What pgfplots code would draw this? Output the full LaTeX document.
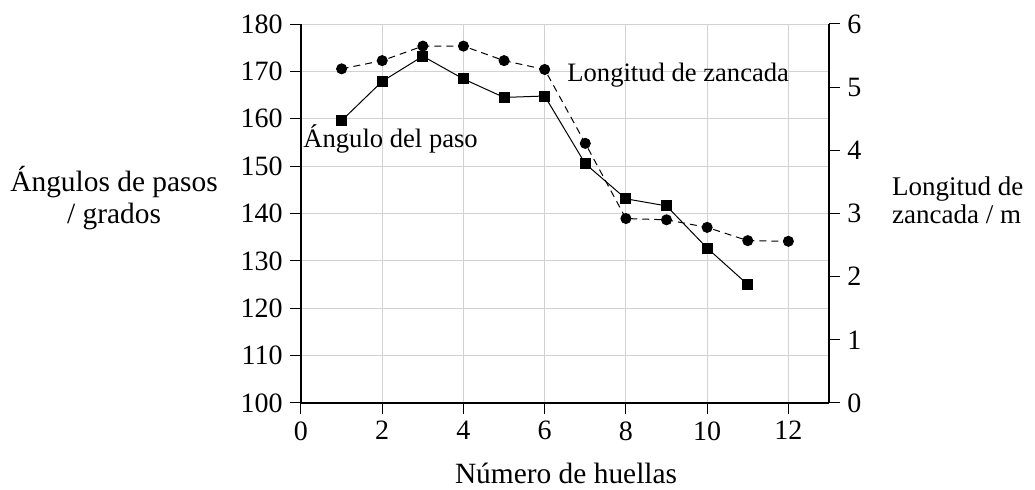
\documentclass[border=0pt]{standalone}
\usepackage{pgfplots}
\pgfplotsset{compat=1.18}
\usepackage{fontspec}
\setmainfont{Liberation Serif}

% Ángulo del paso (grados) y longitud de zancada (m) por huella
\pgfplotstableread{
n  ang
1  159.6
2  167.9
3  173.2
4  168.4
5  164.5
6  164.8
7  150.5
8  143.1
9  141.6
10 132.7
11 125.0
}\angulo
\pgfplotstableread{
n  lon
1  5.29
2  5.42
3  5.65
4  5.65
5  5.42
6  5.28
7  4.11
8  2.92
9  2.90
10 2.78
11 2.57
12 2.56
}\zancada

\begin{document}
\begin{tikzpicture}
\path[use as bounding box] (-150.5pt,-43.5pt) rectangle (367pt,201.5pt);
\pgfplotsset{
  every axis/.append style={
    scale only axis, width=264pt, height=189.5pt,
    at={(0,0)}, anchor=south west,
    xmin=0, xmax=13,
    tick align=outside, major tick length=5.5pt,
    every tick/.style={black, line width=0.5pt},
    axis line style={black, line width=0.6pt},
    tick label style={font=\fontsize{14}{16}\selectfont},
    xticklabel style={inner ysep=3.5pt},
    yticklabel style={inner xsep=3.5pt},
    /pgf/number format/assume math mode=true,
    clip=false,
  },
}
\begin{axis}[
  axis x line*=bottom, axis y line*=left,
  ymin=100, ymax=180,
  xtick={0,2,...,12}, ytick={100,110,...,180},
  grid=major, grid style={color=gray!35, line width=0.5pt},
  xlabel={Número de huellas},
  xlabel style={at={(axis description cs:0.502,-0.212)}, anchor=base, inner sep=0pt,
    font=\fontsize{14.7}{16}\selectfont},
  ylabel={Ángulos de pasos\\/ grados},
  ylabel style={at={(axis description cs:-0.354,0.54)}, anchor=center, rotate=-90,
    align=center, inner sep=0pt, font=\fontsize{14.7}{16}\selectfont},
]
\addplot[black, line width=0.5pt, mark=square*, mark size=2.5pt, mark options={solid}]
  table[x=n, y=ang] {\angulo};
\node[anchor=base west, inner sep=0pt, font=\fontsize{13.3}{15}\selectfont]
  at (axis cs:6.55,167.76) {Longitud de zancada};
\node[anchor=base west, inner sep=0pt, font=\fontsize{13.3}{15}\selectfont]
  at (axis cs:0.05,154.0) {Ángulo del paso};
\end{axis}
\begin{axis}[
  axis x line=none, axis y line*=right,
  ymin=0, ymax=6, ytick={0,1,...,6},
  ylabel={Longitud de\\zancada / m},
  ylabel style={at={(axis description cs:1.119,0.597)}, anchor=north west, rotate=-90,
    align=left, inner sep=0pt, font=\fontsize{13.5}{14}\selectfont},
]
\addplot[black, line width=0.5pt, dash pattern=on 3.5pt off 2.5pt, mark=*, mark size=2.5pt, mark options={solid}]
  table[x=n, y=lon] {\zancada};
\end{axis}
\end{tikzpicture}
\end{document}
